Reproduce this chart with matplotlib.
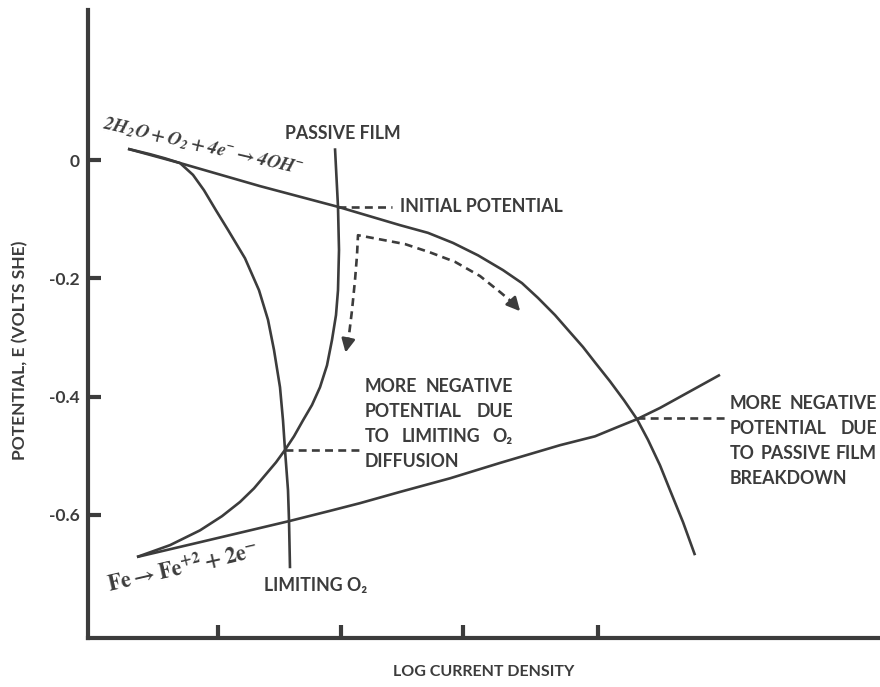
import matplotlib
matplotlib.use('Agg')
import matplotlib.pyplot as plt

plt.rcParams['font.family'] = ['Lato', 'DejaVu Sans']
plt.rcParams['font.weight'] = 'bold'
plt.rcParams['mathtext.fontset'] = 'stix'

ink = '#3c3c3c'

# cathodic branch : 2H2O + O2 + 4e- -> 4OH-
o2_x = [0.40, 0.92, 1.72, 2.50, 3.12, 3.40, 3.65, 3.90, 4.15, 4.34, 4.50, 4.67, 4.82, 4.95,
        5.07, 5.22, 5.36, 5.49, 5.60, 5.72, 5.82, 5.95, 6.07]
o2_E = [0.019, -0.005, -0.044, -0.079, -0.110, -0.123, -0.140, -0.161, -0.186, -0.208, -0.233,
        -0.262, -0.291, -0.316, -0.342, -0.374, -0.406, -0.438, -0.473, -0.516, -0.558, -0.612, -0.668]

# same branch when O2 diffusion becomes limiting
lim_x = [0.40, 0.62, 0.77, 0.92, 1.05, 1.16, 1.28, 1.40, 1.57, 1.71, 1.80, 1.86, 1.92, 1.95,
         1.97, 2.00, 2.01, 2.02]
lim_E = [0.019, 0.010, 0.003, -0.005, -0.025, -0.051, -0.085, -0.118, -0.166, -0.220, -0.270,
         -0.321, -0.384, -0.440, -0.490, -0.558, -0.609, -0.690]

# anodic branch with passive film
pas_x = [2.47, 2.50, 2.51, 2.50, 2.48, 2.44, 2.39, 2.32, 2.24, 2.15, 2.06, 1.97, 1.88, 1.79,
         1.66, 1.52, 1.34, 1.12, 0.82, 0.49]
pas_E = [0.020, -0.079, -0.152, -0.220, -0.262, -0.304, -0.347, -0.384, -0.414, -0.440, -0.467,
         -0.490, -0.511, -0.529, -0.555, -0.578, -0.602, -0.626, -0.651, -0.671]

# anodic branch : Fe -> Fe+2 + 2e-
fe_x = [0.49, 1.12, 1.62, 2.02, 2.42, 2.72, 3.12, 3.62, 4.12, 4.72, 5.07, 5.30, 5.49, 5.72,
        6.02, 6.32]
fe_E = [-0.671, -0.646, -0.626, -0.610, -0.593, -0.580, -0.561, -0.538, -0.512, -0.482, -0.467,
        -0.451, -0.438, -0.419, -0.391, -0.363]

# potential shifts (dashed arrows)
shift_x = [2.59, 2.61, 2.64, 2.67, 2.69, 2.70, 2.92, 3.17, 3.42, 3.67, 3.92, 4.12, 4.24]
shift_E = [-0.313, -0.296, -0.254, -0.203, -0.161, -0.127, -0.134, -0.142, -0.156, -0.172, -0.196, -0.223, -0.240]

# corrosion potentials (x start, x end, E)
E_initial = (2.50, 3.04, -0.079)
E_limited = (1.97, 2.72, -0.490)
E_breakdown = (5.49, 6.37, -0.436)

yticks = [0, -0.2, -0.4, -0.6]
ytick_labels = ['0', '-0.2', '-0.4', '-0.6']
xticks = [1.30, 2.53, 3.75, 5.10]

fig = plt.figure(figsize=(8.8, 6.87), dpi=100)
ax = fig.add_axes([0.1, 0.0713, 0.9, 0.914])
ax.set_xlim(0, 7.92)
ax.set_ylim(-0.808, 0.2536)

for s in ['top', 'right']:
    ax.spines[s].set_visible(False)
for s in ['left', 'bottom']:
    ax.spines[s].set_linewidth(3)
    ax.spines[s].set_color(ink)
    ax.spines[s].set_capstyle('projecting')

ax.set_xticks(xticks)
ax.set_xticklabels([])
ax.set_yticks(yticks)
ax.set_yticklabels(ytick_labels)
ax.tick_params(direction='in', length=9.5, width=3, color=ink, labelcolor=ink,
               labelsize=12.5, pad=6)

lw = 1.9
for x, y in [(o2_x, o2_E), (lim_x, lim_E), (pas_x, pas_E), (fe_x, fe_E)]:
    ax.plot(x, y, color=ink, lw=lw, solid_capstyle='butt', solid_joinstyle='round')

dash = (0, (3, 2))
for x0, x1, e in [E_initial, E_limited, E_breakdown]:
    ax.plot([x0, x1], [e, e], color=ink, lw=lw, linestyle=dash)

ax.plot(shift_x, shift_E, color=ink, lw=lw, linestyle=dash)
ax.annotate('', xy=(2.57, -0.330), xytext=(shift_x[0], shift_E[0]),
            arrowprops=dict(arrowstyle='-|>', color=ink, lw=lw, mutation_scale=20))
ax.annotate('', xy=(4.34, -0.259), xytext=(shift_x[-1], shift_E[-1]),
            arrowprops=dict(arrowstyle='-|>', color=ink, lw=lw, mutation_scale=20))

# reaction labels
ax.text(0.14, 0.054,
        r'$\mathbfit{2H_2O} + \mathbfit{O_2} + \mathbfit{4e^{-}} \rightarrow \mathbfit{4OH^{-}}$',
        color=ink, fontsize=13.5, rotation=-13, rotation_mode='anchor', ha='left', va='baseline')
ax.text(0.21, -0.731, r'$\mathbf{Fe} \rightarrow \mathbf{Fe}^{+2} + \mathbf{2e}^{-}$', color=ink,
        fontsize=16, rotation=13, rotation_mode='anchor', ha='left', va='baseline')

fs = 12.8
ax.text(1.97, 0.0355, 'PASSIVE FILM', color=ink, fontsize=fs, va='baseline')
ax.text(3.12, -0.0879, 'INITIAL POTENTIAL', color=ink, fontsize=fs, va='baseline')
ax.text(1.76, -0.728, 'LIMITING O₂', color=ink, fontsize=fs, va='baseline')

renderer = fig.canvas.get_renderer()


def justified(lines, x0, x1, e0, step):
    # spread the words of each line between x0 and x1, last line left aligned
    inv = ax.transData.inverted()
    for i, line in enumerate(lines):
        words = line.split()
        e = e0 - i * step
        texts = [ax.text(x0, e, w, color=ink, fontsize=fs, va='baseline') for w in words]
        widths = []
        for t in texts:
            bb = t.get_window_extent(renderer)
            widths.append(inv.transform((bb.x1, 0))[0] - inv.transform((bb.x0, 0))[0])
        if i == len(lines) - 1 or len(words) == 1:
            gap = 0.05
        else:
            gap = (x1 - x0 - sum(widths)) / (len(words) - 1)
        x = x0
        for t, w in zip(texts, widths):
            t.set_x(x)
            x += w + gap


justified(['MORE NEGATIVE', 'POTENTIAL DUE', 'TO LIMITING O₂', 'DIFFUSION'],
          2.77, 4.25, -0.392, 0.0423)
justified(['MORE NEGATIVE', 'POTENTIAL DUE', 'TO PASSIVE FILM', 'BREAKDOWN'],
          6.42, 7.89, -0.421, 0.0423)

fig.text(20 / 880, 1 - 350 / 687, 'POTENTIAL, E (VOLTS SHE)', color=ink, fontsize=12.5,
         rotation=90, ha='center', va='center')
fig.text(484 / 880, 1 - 672 / 687, 'LOG CURRENT DENSITY', color=ink, fontsize=11.5,
         ha='center', va='center')

fig.savefig('out.png', dpi=100)
